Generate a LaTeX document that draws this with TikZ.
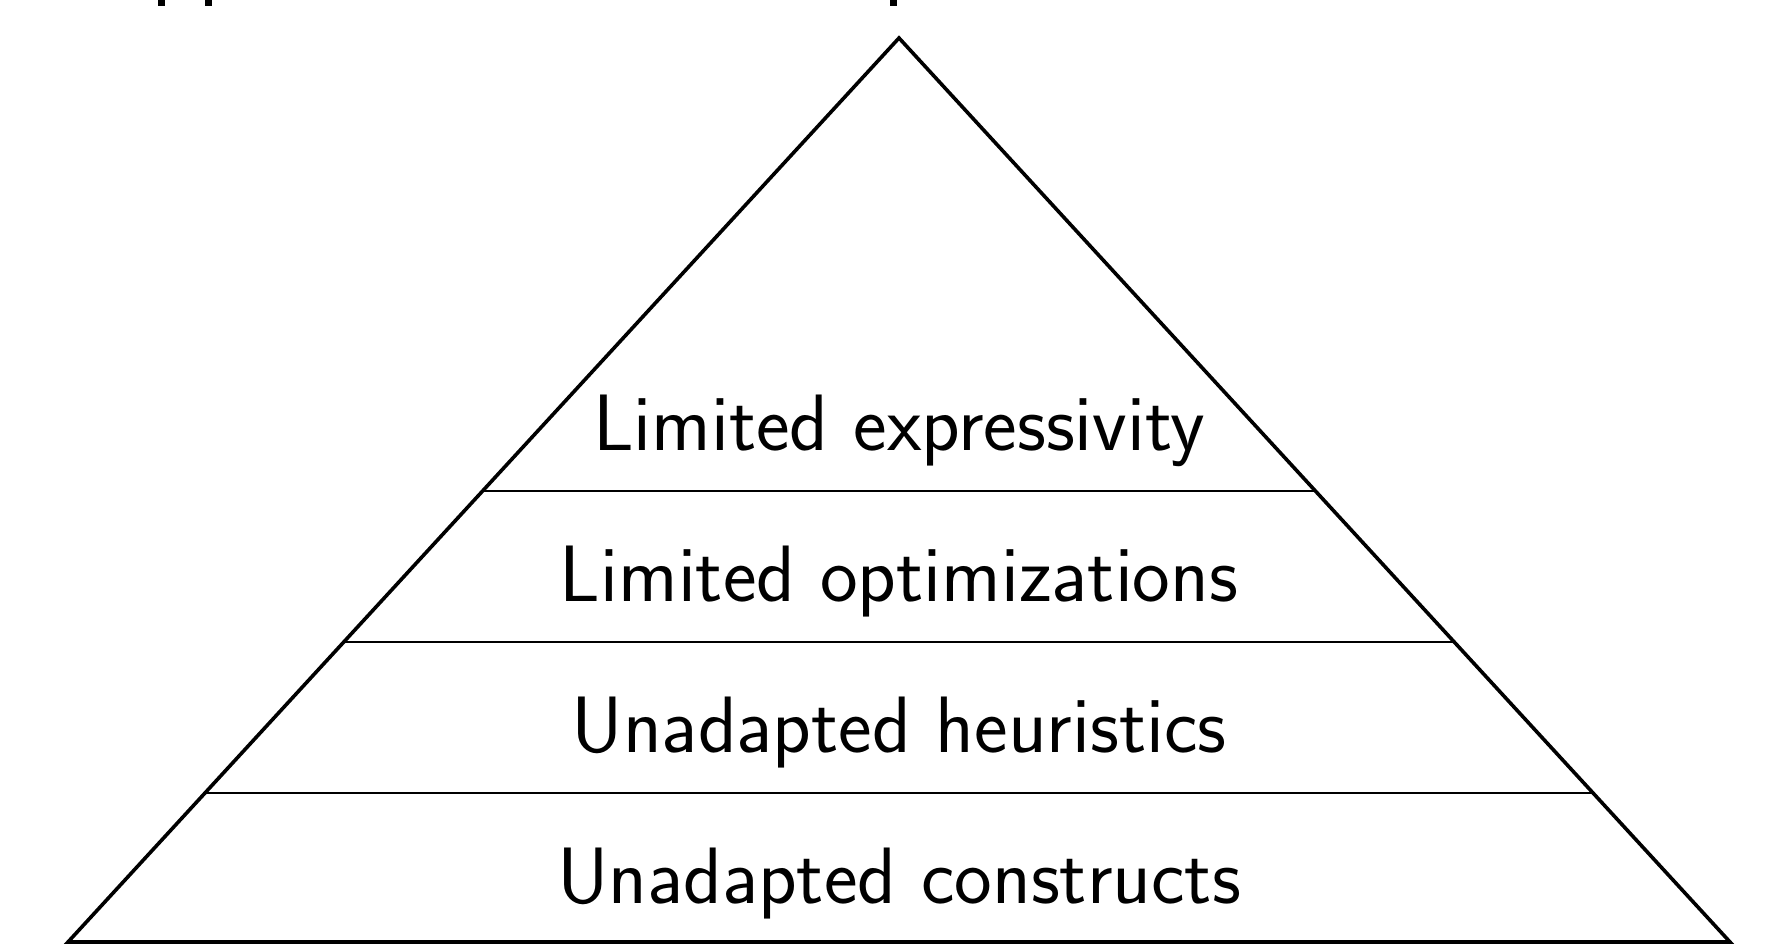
\documentclass[tikz,border=0pt]{standalone}
\renewcommand{\familydefault}{\sfdefault}
\begin{document}
\begin{tikzpicture}[x=1pt,y=-1pt,
  outline/.style={line width=3.6pt, line join=miter},
  divider/.style={line width=2pt},
  label/.style={anchor=base, inner sep=0pt, font=\sffamily\fontsize{80}{96}\selectfont}]
\useasboundingbox (0,0) rectangle (1766,945);
% clipped descender stubs of a title above the frame
\fill (158,0) rectangle (165,6);
\fill (205,0) rectangle (212,6);
\fill (890,0) rectangle (897,6);
% pyramid
\coordinate (apex) at (899,38);
\coordinate (bl) at (68,942);
\coordinate (br) at (1730,942);
\draw[outline] (bl) -- (apex) -- (br) -- cycle;
\foreach \y in {491,642,793}{
  \pgfmathsetmacro{\hw}{(\y-38)/904*831}
  \draw[divider] ({899-\hw},\y) -- ({899+\hw},\y);
}
\node[label] (l1) at (899,450) {Limited expressivity};
\node[label] (l2) at (899,601) {Limited optimizations};
\node[label] (l3) at (899,752) {Unadapted heuristics};
\node[label] (l4) at (899,903) {Unadapted constructs};
\end{tikzpicture}
\end{document}
